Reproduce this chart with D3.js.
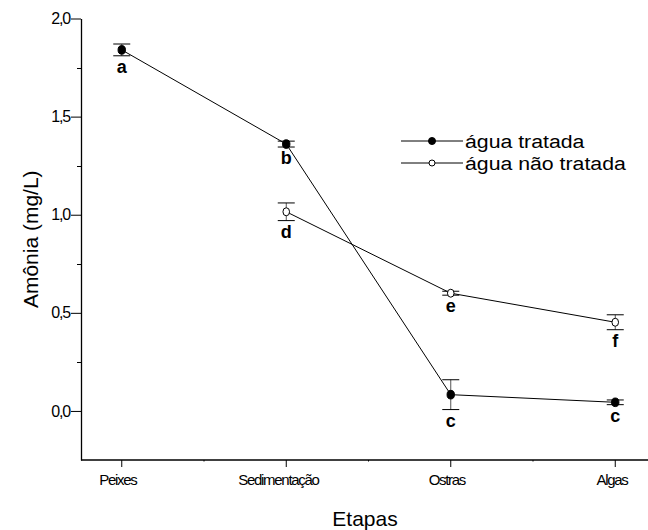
<!DOCTYPE html>
<html>
<head>
<meta charset="utf-8">
<script src="https://cdn.jsdelivr.net/npm/d3@7"></script>
<style>
  body { margin: 0; background: #fff; }
  svg { display: block; font-family: "Liberation Sans", Arial, sans-serif; }
</style>
</head>
<body>
<div id="chart"></div>
<script>
const etapas = ["Peixes", "Sedimentação", "Ostras", "Algas"];
const tratada = [1.84, 1.36, 0.083, 0.044];
const tratadaErr = [0.03, 0.015, 0.076, 0.012];
const tratadaLetras = ["a", "b", "c", "c"];
const naoTratada = [null, 1.015, 0.60, 0.452];
const naoTratadaErr = [null, 0.045, 0.01, 0.038];
const naoTratadaLetras = [null, "d", "e", "f"];
const yTicks = [0, 0.5, 1.0, 1.5, 2.0];
const yMinor = [0.25, 0.75, 1.25, 1.75];

const W = 648, H = 530;
const axisX = 81, axisTop = 18.5, axisBottom = 460;

const svg = d3.select("#chart").append("svg")
  .attr("width", W).attr("height", H);

const x = d3.scaleBand().domain(etapas).range([39.5, 697.5]);
const cx = d => x(d) + x.bandwidth() / 2;
const y = d3.scaleLinear().domain([-0.25, 2.0]).range([axisBottom, axisTop]);

const fmt = d3.formatLocale({ decimal: ",", thousands: ".", grouping: [3], currency: ["", ""] }).format(".1f");

// eixo y
const yAxis = svg.append("g")
  .attr("transform", `translate(${axisX},0)`)
  .call(d3.axisLeft(y).tickValues(yTicks).tickFormat(fmt).tickSize(10).tickPadding(1).tickSizeOuter(0));
yAxis.select(".domain").attr("stroke-width", 1.3);
yAxis.selectAll("text").attr("font-size", 16).attr("letter-spacing", "-1.2px").attr("fill", "#000");
svg.append("g").selectAll("line").data(yMinor).join("line")
  .attr("x1", axisX - 4).attr("x2", axisX)
  .attr("y1", d => Math.round(y(d)) + 0.5).attr("y2", d => Math.round(y(d)) + 0.5)
  .attr("stroke", "#000");

// eixo x
svg.append("line")
  .attr("x1", axisX).attr("x2", W).attr("y1", axisBottom).attr("y2", axisBottom)
  .attr("stroke", "#000").attr("stroke-width", 1.3);
svg.append("g").selectAll("line").data(etapas).join("line")
  .attr("x1", d => cx(d)).attr("x2", d => cx(d))
  .attr("y1", axisBottom).attr("y2", axisBottom + 7)
  .attr("stroke", "#000");
svg.append("g").selectAll("line").data(etapas.slice(1)).join("line")
  .attr("x1", d => x(d)).attr("x2", d => x(d))
  .attr("y1", axisBottom).attr("y2", axisBottom + 1.5)
  .attr("stroke", "#000");
// rótulos comprimidos a partir da posição do texto sem compressão
svg.append("g").selectAll("text").data(etapas).join("text")
  .attr("y", axisBottom + 25)
  .attr("font-size", 15)
  .text(d => d)
  .each(function (d) {
    const w = this.getComputedTextLength();
    d3.select(this).attr("x", cx(d) - w / 2).attr("letter-spacing", "-1.3px");
  });

// títulos
svg.append("text")
  .attr("transform", `translate(38,${(axisTop + axisBottom) / 2}) rotate(-90)`)
  .attr("text-anchor", "middle").attr("font-size", 21)
  .text("Amônia (mg/L)");
svg.append("text")
  .attr("x", 365).attr("y", 526)
  .attr("text-anchor", "middle").attr("font-size", 21)
  .text("Etapas");

function drawSeries(vals, errs, letras, filled) {
  const pts = etapas.map((e, i) => ({ e, v: vals[i], err: errs[i], l: letras[i] }))
    .filter(d => d.v !== null);
  const g = svg.append("g");
  g.append("path").datum(pts)
    .attr("fill", "none").attr("stroke", "#000").attr("stroke-width", 1)
    .attr("d", d3.line().x(d => cx(d.e)).y(d => y(d.v)));
  const eb = g.selectAll(".eb").data(pts).join("g");
  eb.append("line")
    .attr("x1", d => cx(d.e)).attr("x2", d => cx(d.e))
    .attr("y1", d => y(d.v + d.err)).attr("y2", d => y(d.v - d.err))
    .attr("stroke", "#555");
  [1, -1].forEach(s => {
    eb.append("line")
      .attr("x1", d => cx(d.e) - 8.5).attr("x2", d => cx(d.e) + 8.5)
      .attr("y1", d => y(d.v + s * d.err)).attr("y2", d => y(d.v + s * d.err))
      .attr("stroke", "#000");
  });
  g.selectAll("ellipse").data(pts).join("ellipse")
    .attr("cx", d => cx(d.e)).attr("cy", d => y(d.v))
    .attr("rx", filled ? 3.7 : 3.3).attr("ry", filled ? 4.3 : 4)
    .attr("fill", filled ? "#000" : "#fff").attr("stroke", "#000").attr("stroke-width", 1);
  g.selectAll(".lt").data(pts).join("text")
    .attr("x", d => cx(d.e)).attr("y", d => y(d.v - d.err) + 17)
    .attr("text-anchor", "middle").attr("font-size", 18).attr("font-weight", "bold")
    .text(d => d.l);
}

drawSeries(tratada, tratadaErr, tratadaLetras, true);
drawSeries(naoTratada, naoTratadaErr, naoTratadaLetras, false);

// legenda
const legend = [
  { label: "água tratada", filled: true },
  { label: "água não tratada", filled: false }
];
const lg = svg.append("g").selectAll("g").data(legend).join("g")
  .attr("transform", (d, i) => `translate(401,${141 + i * 22})`);
lg.append("line").attr("x1", 0).attr("x2", 62).attr("y1", 0).attr("y2", 0).attr("stroke", "#000");
lg.append("circle").attr("cx", 31).attr("cy", 0).attr("r", d => d.filled ? 3.5 : 3)
  .attr("fill", d => d.filled ? "#000" : "#fff").attr("stroke", "#000");
lg.append("text").attr("transform", "translate(64,7) scale(1.12,1)")
  .attr("font-size", 19).text(d => d.label);
</script>
</body>
</html>
